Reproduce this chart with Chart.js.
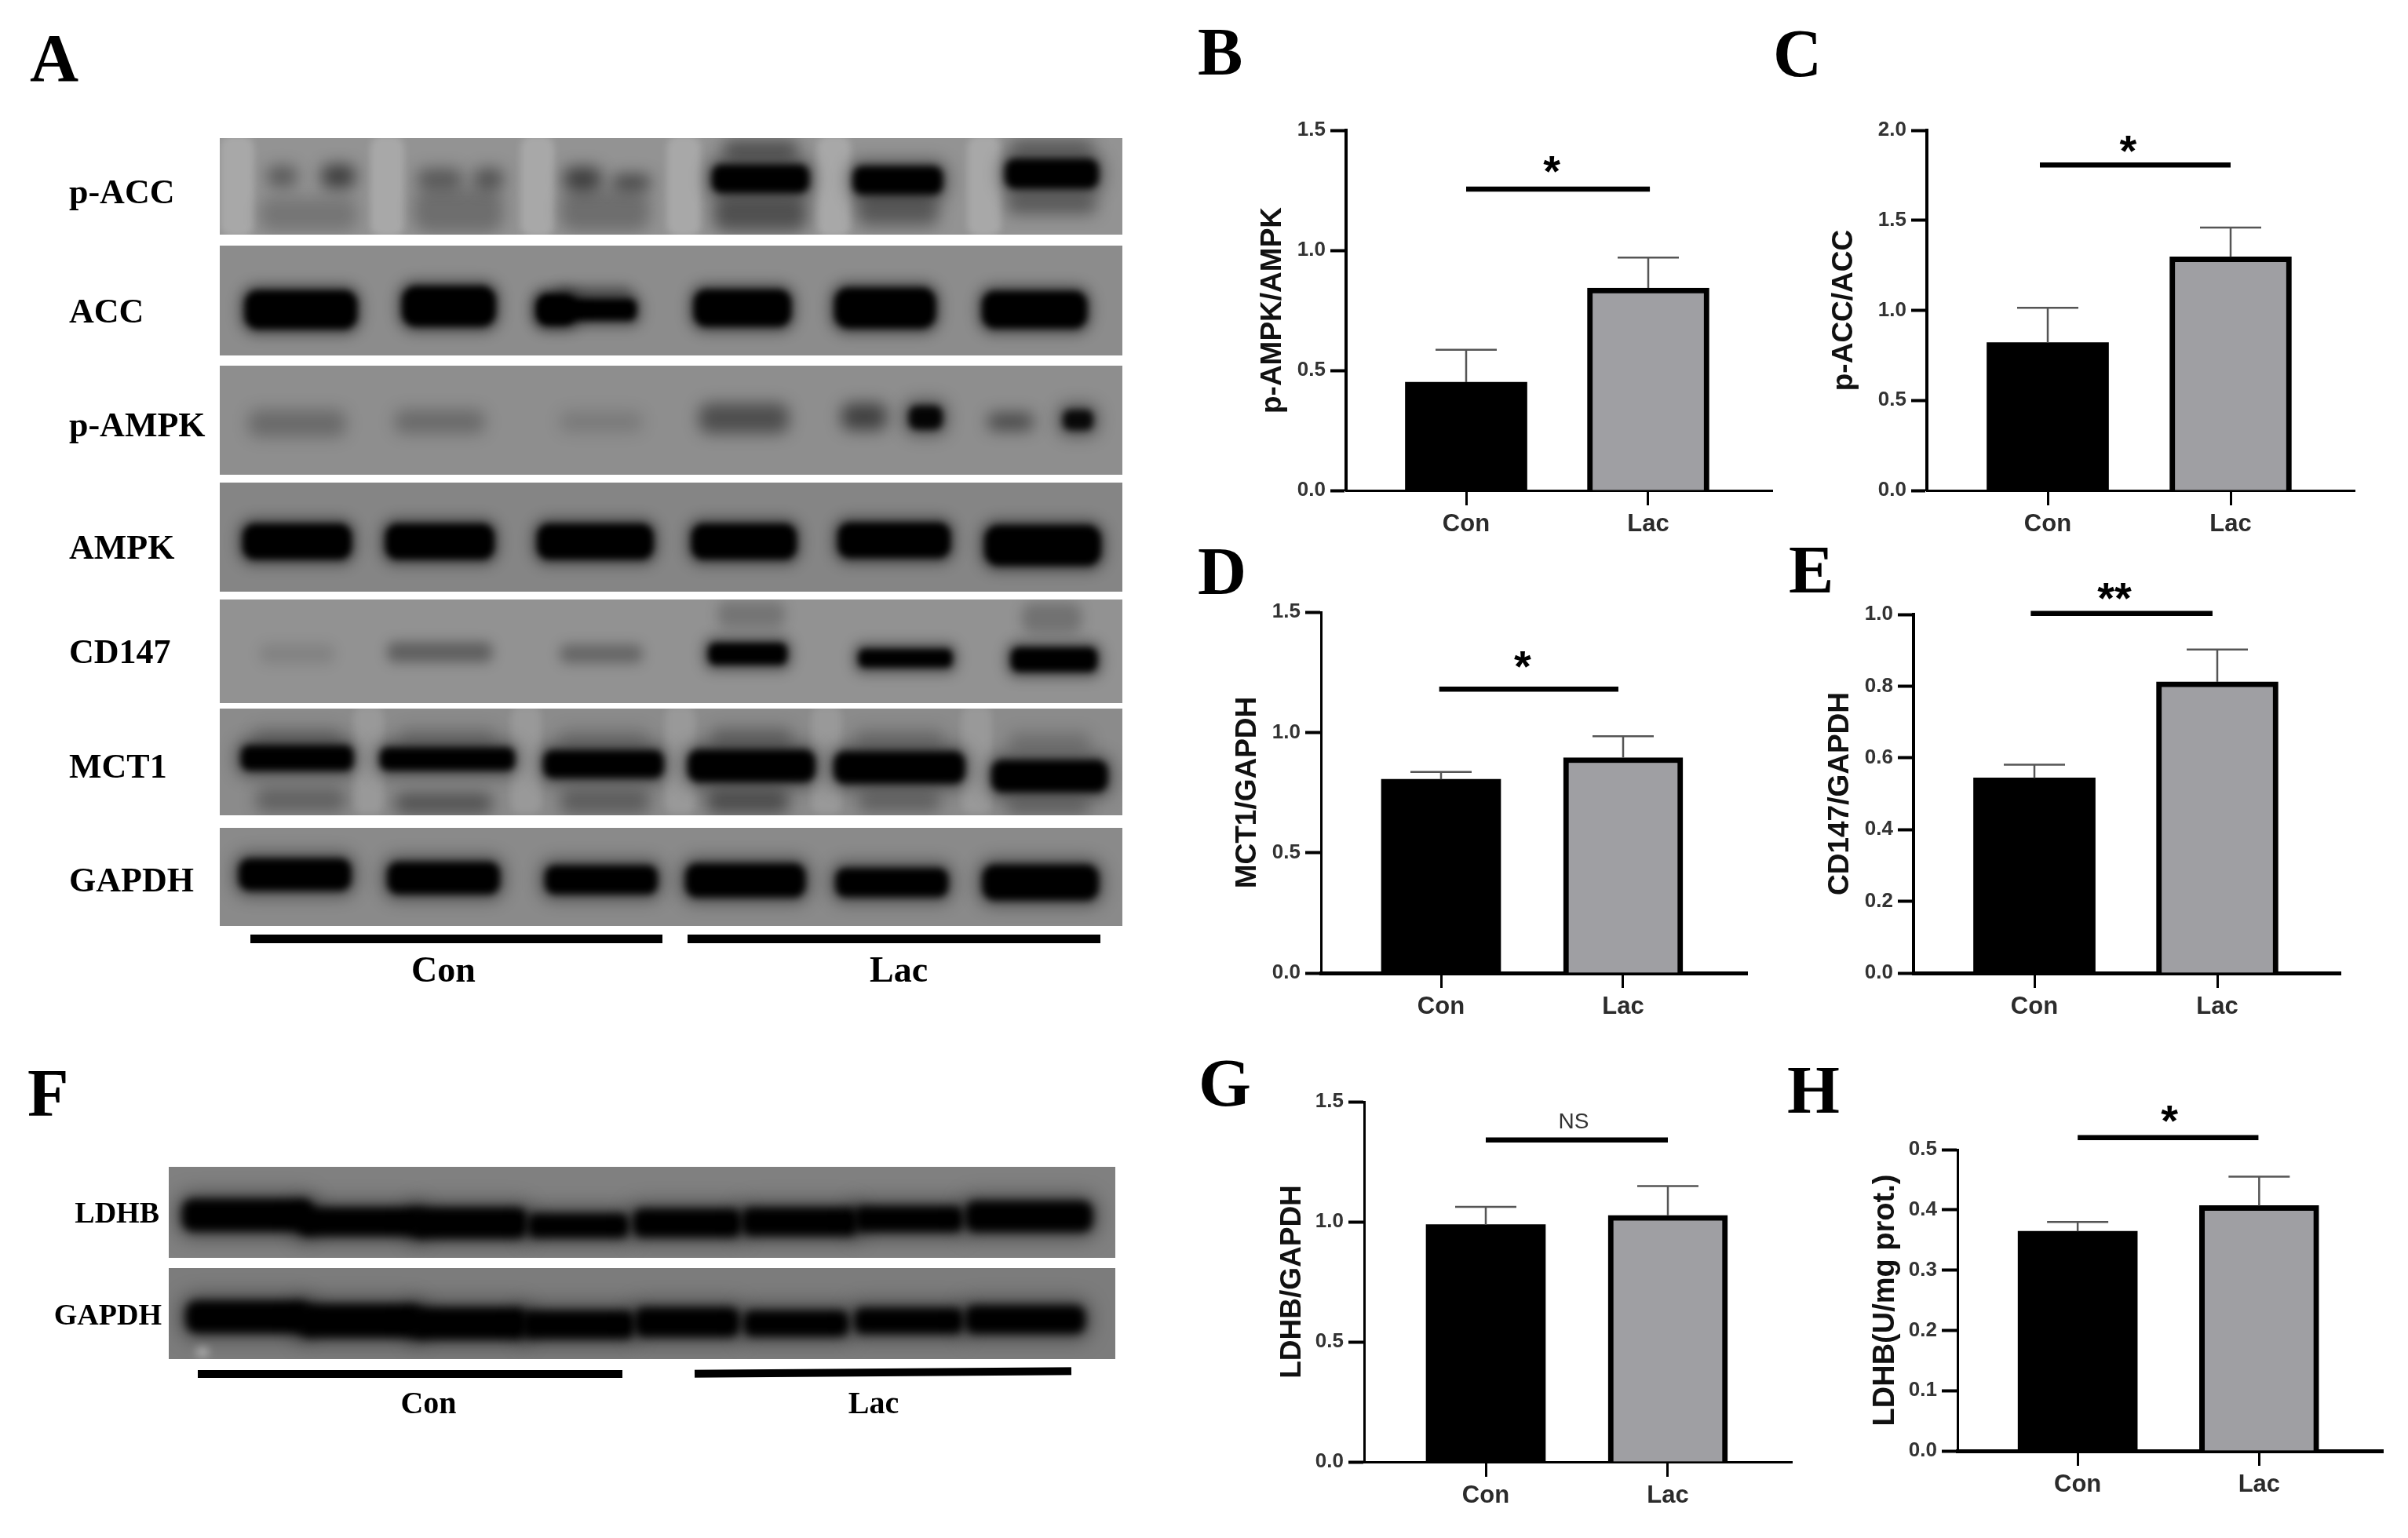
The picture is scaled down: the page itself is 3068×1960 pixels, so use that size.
<!DOCTYPE html>
<html>
<head>
<meta charset="utf-8">
<title>Western blots and densitometry</title>
<script src="https://cdn.jsdelivr.net/npm/chart.js@4/dist/chart.umd.min.js"></script>
<style>
    html, body { margin: 0; padding: 0; background: #fff; }
    body { position: relative; width: 3068px; height: 1960px; overflow: hidden; }
    canvas { position: absolute; }
    .plot { filter: blur(0.7px); }
    .txt { position: absolute; font-family: "Liberation Serif", serif; font-weight: bold; color: #000; line-height: 1; white-space: nowrap; filter: blur(0.6px); }
    .rule { position: absolute; background: #000; filter: blur(0.6px); }
</style>
</head>
<body>
<script>
// bar values
const groupLabels = ['Con', 'Lac'];

const bMeans = [0.451, 0.843];
const bTops = [0.586, 0.970];
const cMeans = [0.821, 1.297];
const cTops = [1.014, 1.460];
const dMeans = [0.805, 0.895];
const dTops = [0.836, 0.984];
const eMeans = [0.544, 0.812];
const eTops = [0.581, 0.902];
const gMeans = [0.988, 1.027];
const gTops = [1.062, 1.149];
const hMeans = [0.3644, 0.407];
const hTops = [0.380, 0.455];

const bTicks = [0, 0.5, 1.0, 1.5];
const cTicks = [0, 0.5, 1.0, 1.5, 2.0];
const dTicks = [0, 0.5, 1.0, 1.5];
const eTicks = [0, 0.2, 0.4, 0.6, 0.8, 1.0];
const gTicks = [0, 0.5, 1.0, 1.5];
const hTicks = [0, 0.1, 0.2, 0.3, 0.4, 0.5];

// blot bands: [lane x, y, width, height, ink], negative ink is a lighter streak
const pAccBands = [
    [23, 142, 45, 300, -0.2], [223, 142, 45, 300, -0.2], [423, 142, 45, 300, -0.2],
    [618, 142, 45, 300, -0.2], [818, 142, 45, 300, -0.2], [1018, 142, 45, 300, -0.2],
    [118, 225, 130, 100, 0.2], [318, 215, 120, 130, 0.25], [513, 215, 120, 120, 0.25],
    [720, 225, 125, 100, 0.45], [903, 215, 110, 90, 0.38], [1108, 195, 120, 60, 0.38],
    [720, 35, 100, 60, 0.45], [1108, 25, 110, 40, 0.4],
    [83, 113, 40, 60, 0.4], [158, 113, 45, 70, 0.58],
    [293, 120, 60, 60, 0.4], [358, 120, 40, 60, 0.45],
    [483, 120, 50, 70, 0.58], [548, 130, 50, 45, 0.55],
    [720, 120, 130, 85, 1], [903, 125, 120, 85, 1], [1108, 105, 125, 90, 1]
];
const accBands = [
    [108, 188, 150, 115, 1], [305, 178, 125, 120, 1],
    [490, 188, 130, 65, 1], [448, 188, 50, 90, 1], [498, 138, 100, 40, 0.3],
    [696, 183, 130, 110, 1], [886, 183, 135, 120, 1], [1085, 188, 140, 110, 1]
];
const pAmpkBands = [
    [103, 170, 130, 80, 0.25], [293, 165, 120, 70, 0.25], [508, 165, 110, 60, 0.14],
    [698, 155, 120, 90, 0.45], [858, 150, 60, 80, 0.55], [940, 153, 45, 70, 0.95],
    [1053, 165, 60, 50, 0.5], [1143, 160, 40, 60, 0.9]
];
const ampkBands = [
    [103, 174, 145, 105, 1], [293, 174, 145, 105, 1], [500, 174, 155, 105, 1],
    [698, 174, 140, 105, 1], [898, 170, 150, 105, 1], [1096, 185, 155, 120, 1]
];
const cd147Bands = [
    [708, 45, 90, 80, 0.2], [1108, 55, 80, 90, 0.22],
    [103, 160, 100, 60, 0.1], [293, 155, 140, 60, 0.35], [508, 160, 110, 55, 0.3],
    [703, 160, 105, 65, 1], [913, 173, 125, 55, 1], [1111, 177, 115, 72, 1]
];
const mct1Bands = [
    [198, 150, 40, 320, -0.12], [408, 150, 40, 320, -0.12], [613, 150, 40, 320, -0.12],
    [808, 150, 40, 320, -0.12], [1008, 150, 40, 320, -0.12],
    [103, 85, 120, 60, 0.2], [303, 85, 130, 60, 0.18], [511, 90, 120, 60, 0.18],
    [708, 85, 110, 60, 0.28], [905, 90, 120, 60, 0.2], [1105, 100, 110, 60, 0.2],
    [108, 268, 120, 70, 0.3], [298, 278, 130, 60, 0.42], [513, 273, 120, 70, 0.34],
    [703, 273, 110, 70, 0.45], [905, 273, 110, 60, 0.3], [1103, 288, 110, 40, 0.34],
    [103, 145, 150, 75, 1], [303, 148, 180, 68, 1], [511, 163, 160, 82, 1],
    [708, 168, 170, 95, 1], [905, 173, 175, 95, 1], [1105, 198, 155, 95, 1]
];
const gapdhBands = [
    [100, 137, 150, 95, 1], [298, 147, 150, 95, 1], [508, 152, 150, 85, 1],
    [700, 154, 160, 100, 1], [895, 160, 150, 85, 1], [1093, 160, 155, 105, 1]
];
const ldhbBands = [
    [105, 185, 175, 125, 1], [255, 210, 165, 110, 1], [400, 215, 155, 120, 1], [545, 225, 135, 95, 1],
    [690, 215, 145, 110, 1], [840, 210, 155, 110, 1], [985, 200, 145, 100, 1], [1145, 190, 170, 120, 1]
];
const gapdh2Bands = [
    [105, 188, 165, 125, 1], [255, 203, 165, 130, 1], [400, 213, 155, 125, 1], [545, 218, 150, 110, 1],
    [690, 208, 140, 115, 1], [835, 213, 140, 100, 1], [985, 203, 145, 100, 1], [1140, 198, 160, 110, 1],
    [45, 323, 15, 30, -0.5]
];

// where things sit on the page
const panelBoxes = {
    B: { left: 1715, right: 2258, top: 166, bottom: 624.4, conX: 1868, lacX: 2100, titleX: 1619, barW: 155, yw: 4, xw: 3 },
    C: { left: 2455, right: 3000, top: 166, bottom: 624.4, conX: 2609, lacX: 2842, titleX: 2347, barW: 155, yw: 4, xw: 3 },
    D: { left: 1683, right: 2226, top: 780.4, bottom: 1239.6, conX: 1836, lacX: 2068, titleX: 1587, barW: 152, yw: 3, xw: 5 },
    E: { left: 2438, right: 2982, top: 782.9, bottom: 1239.6, conX: 2592, lacX: 2825, titleX: 2342, barW: 155, yw: 4, xw: 5 },
    G: { left: 1738, right: 2283, top: 1403.7, bottom: 1862.7, conX: 1893, lacX: 2125, titleX: 1644, barW: 152, yw: 3, xw: 3 },
    H: { left: 2494, right: 3035.5, top: 1465.3, bottom: 1848.9, conX: 2647, lacX: 2878, titleX: 2399, barW: 152, yw: 3, xw: 5 }
};

function addText(text, x, y, size, align) {
    let d = document.createElement('div');
    d.className = 'txt';
    d.textContent = text;
    d.style.fontSize = size + 'px';
    d.style.top = (y - size / 2) + 'px';
    if (align === 'center') {
        d.style.left = x + 'px';
        d.style.transform = 'translateX(-50%)';
    } else if (align === 'right') {
        d.style.right = (3068 - x) + 'px';
    } else {
        d.style.left = x + 'px';
    }
    document.body.appendChild(d);
}

function addLetter(text, x, baseline) {
    let d = document.createElement('div');
    d.className = 'txt';
    d.textContent = text;
    d.style.fontSize = '86px';
    d.style.left = x + 'px';
    d.style.top = (baseline - 0.8375 * 86) + 'px';
    document.body.appendChild(d);
}

function addRule(x1, x2, y, h, angle) {
    let d = document.createElement('div');
    d.className = 'rule';
    d.style.left = x1 + 'px';
    d.style.top = y + 'px';
    d.style.width = (x2 - x1) + 'px';
    d.style.height = h + 'px';
    if (angle) d.style.transform = 'rotate(' + angle + 'deg)';
    document.body.appendChild(d);
}

// one gel strip: grey ground with soft bands placed through the chart scales
const bandPlugin = {
    id: 'bands',
    beforeDatasetsDraw(chart) {
        const ctx = chart.ctx;
        const area = chart.chartArea;
        const xs = chart.scales.x;
        const ys = chart.scales.y;
        const soft = chart.data.datasets[0].soft;
        ctx.save();
        ctx.beginPath();
        ctx.rect(area.left, area.top, area.right - area.left, area.bottom - area.top);
        ctx.clip();
        ctx.fillStyle = chart.data.datasets[0].ground;
        ctx.fillRect(area.left, area.top, area.right - area.left, area.bottom - area.top);
        const blob = function (px, py, w, h, colour, blur) {
            ctx.filter = 'blur(' + blur + 'px)';
            ctx.fillStyle = colour;
            ctx.beginPath();
            ctx.roundRect(px - w / 2, py - h / 2, w, h, Math.min(w, h) * 0.35);
            ctx.fill();
        };
        chart.data.datasets[0].data.forEach(function (b) {
            const px = xs.getPixelForValue(b.x);
            const py = ys.getPixelForValue(b.y);
            const w = Math.abs(xs.getPixelForValue(b.x + b.w / 2) - px) * 2;
            const h = Math.abs(ys.getPixelForValue(b.y + b.h / 2) - py) * 2;
            if (b.ink >= 0.9) {
                // dark halo round a saturated band
                blob(px, py, w + 14, h + 16, 'rgba(0,0,0,0.4)', soft * 2);
            }
            const colour = b.ink > 0 ? 'rgba(0,0,0,' + b.ink + ')' : 'rgba(255,255,255,' + (-b.ink) + ')';
            blob(px, py, w, h, colour, b.ink > 0 && b.ink < 0.6 ? soft * 2 : soft);
        });
        ctx.restore();
    }
};

function drawStrip(bands, left, top, right, bottom, xMax, yMax, ground, soft) {
    let canvas = document.createElement('canvas');
    canvas.width = Math.round(right - left);
    canvas.height = Math.round(bottom - top);
    canvas.style.left = left + 'px';
    canvas.style.top = top + 'px';
    document.body.appendChild(canvas);
    new Chart(canvas, {
        type: 'scatter',
        data: {
            datasets: [{
                data: bands.map(function (b) { return { x: b[0], y: b[1], w: b[2], h: b[3], ink: b[4] }; }),
                pointRadius: 0,
                ground: ground,
                soft: soft
            }]
        },
        plugins: [bandPlugin],
        options: {
            responsive: false,
            animation: false,
            devicePixelRatio: 1,
            layout: { padding: 0 },
            plugins: { legend: { display: false }, tooltip: { enabled: false } },
            scales: {
                x: { type: 'linear', display: false, min: 0, max: xMax },
                y: { type: 'linear', display: false, min: 0, max: yMax, reverse: true }
            }
        }
    });
}

function drawPanel(box, means, tops, yTicks, title, titleSize, sigText, sigLevel, sigSpan, sigAt, sigLift) {
    const topRoom = 70;
    const bottomRoom = 74;
    const axisRoom = Math.round(box.left - (box.titleX - titleSize * 0.5));
    const spacing = box.lacX - box.conX;
    let canvas = document.createElement('canvas');
    canvas.className = 'plot';
    canvas.width = Math.ceil(box.right - box.left + axisRoom + 8);
    canvas.height = Math.ceil(box.bottom - box.top + topRoom + bottomRoom);
    canvas.style.left = (box.left - axisRoom) + 'px';
    canvas.style.top = (box.top - topRoom) + 'px';
    document.body.appendChild(canvas);

    const marks = {
        id: 'marks',
        afterDatasetsDraw(chart) {
            const ctx = chart.ctx;
            const xs = chart.scales.x;
            const ys = chart.scales.y;
            ctx.save();
            // error bars, upper side only
            ctx.strokeStyle = '#555';
            ctx.lineWidth = 2.5;
            means.forEach(function (m, i) {
                const px = xs.getPixelForValue(i);
                const yTop = ys.getPixelForValue(tops[i]);
                ctx.beginPath();
                ctx.moveTo(px, ys.getPixelForValue(m));
                ctx.lineTo(px, yTop);
                ctx.moveTo(px - 39, yTop);
                ctx.lineTo(px + 39, yTop);
                ctx.stroke();
            });
            // significance bar and its label
            const sy = ys.getPixelForValue(sigLevel);
            ctx.strokeStyle = '#000';
            ctx.lineWidth = 6.5;
            ctx.beginPath();
            ctx.moveTo(xs.getPixelForValue(sigSpan[0]), sy);
            ctx.lineTo(xs.getPixelForValue(sigSpan[1]), sy);
            ctx.stroke();
            ctx.textAlign = 'center';
            ctx.textBaseline = 'alphabetic';
            if (sigText === 'NS') {
                ctx.fillStyle = '#333';
                ctx.font = '28px "Liberation Sans"';
                ctx.fillText(sigText, xs.getPixelForValue(sigAt), sy - sigLift + 10);
            } else {
                ctx.fillStyle = '#000';
                ctx.font = 'bold 56px "Liberation Sans"';
                ctx.fillText(sigText, xs.getPixelForValue(sigAt), sy - sigLift + 56 * 0.46);
            }
            ctx.restore();
        }
    };

    new Chart(canvas, {
        type: 'bar',
        data: {
            datasets: [{
                data: means.map(function (m, i) { return { x: i, y: m }; }),
                backgroundColor: ['#000000', '#9f9fa3'],
                borderColor: '#000000',
                borderWidth: [0, 7],
                borderSkipped: 'bottom',
                barThickness: box.barW
            }]
        },
        plugins: [marks],
        options: {
            responsive: false,
            animation: false,
            devicePixelRatio: 1,
            layout: { padding: { top: topRoom, right: 8, left: 0, bottom: 0 } },
            plugins: { legend: { display: false }, tooltip: { enabled: false } },
            scales: {
                x: {
                    type: 'linear',
                    offset: false,
                    min: (box.left - box.conX) / spacing,
                    max: (box.right - box.conX) / spacing,
                    afterBuildTicks: function (scale) {
                        scale.ticks = groupLabels.map(function (g, i) { return { value: i }; });
                    },
                    afterFit: function (scale) {
                        scale.height = bottomRoom;
                        scale.paddingLeft = 0;
                        scale.paddingRight = 0;
                    },
                    border: { color: '#000', width: box.xw },
                    grid: { offset: false, drawOnChartArea: false, tickLength: 19, tickWidth: 3, tickColor: '#000' },
                    ticks: {
                        autoSkip: false,
                        maxRotation: 0,
                        padding: 6,
                        color: '#2b2b2b',
                        font: { family: 'Liberation Sans', weight: 'bold', size: 31 },
                        callback: function (v) { return groupLabels[v]; }
                    }
                },
                y: {
                    type: 'linear',
                    min: yTicks[0],
                    max: yTicks[yTicks.length - 1],
                    afterBuildTicks: function (scale) {
                        scale.ticks = yTicks.map(function (v) { return { value: v }; });
                    },
                    afterFit: function (scale) {
                        scale.width = axisRoom;
                        scale.paddingTop = 0;
                        scale.paddingBottom = 0;
                    },
                    border: { color: '#000', width: box.yw },
                    grid: { drawOnChartArea: false, tickLength: 20, tickWidth: 4, tickColor: '#000' },
                    title: {
                        display: true,
                        text: title,
                        color: '#111',
                        padding: 0,
                        font: { family: 'Liberation Sans', weight: 'bold', size: titleSize, lineHeight: 1.2 }
                    },
                    ticks: {
                        padding: 6,
                        color: '#333',
                        font: { family: 'Liberation Sans', weight: 'bold', size: 26 },
                        callback: function (v) { return v.toFixed(1); }
                    }
                }
            }
        }
    });
}

// panel A strips
drawStrip(pAccBands, 280, 176, 1430, 299, 1202, 285, '#939393', 5);
drawStrip(accBands, 280, 313, 1430, 453, 1202, 322, '#8c8c8c', 4);
drawStrip(pAmpkBands, 280, 466, 1430, 605, 1202, 321, '#8e8e8e', 5);
drawStrip(ampkBands, 280, 615, 1430, 754, 1202, 321, '#858585', 4);
drawStrip(cd147Bands, 280, 764, 1430, 896, 1202, 305, '#929292', 4);
drawStrip(mct1Bands, 280, 903, 1430, 1039, 1202, 313, '#8b8b8b', 5);
drawStrip(gapdhBands, 280, 1055, 1430, 1180, 1202, 287, '#8a8a8a', 5);

// panel F strips
drawStrip(ldhbBands, 215, 1487, 1421, 1603, 1260, 348, '#808080', 6);
drawStrip(gapdh2Bands, 215, 1616, 1421, 1732, 1260, 350, '#7c7c7c', 6);

addText('p-ACC', 88, 245, 44);
addText('ACC', 88, 397, 44);
addText('p-AMPK', 88, 542, 44);
addText('AMPK', 88, 698, 44);
addText('CD147', 88, 831, 44);
addText('MCT1', 88, 977, 44);
addText('GAPDH', 88, 1122, 44);
addRule(319, 844, 1191, 11);
addRule(876, 1402, 1191, 11);
addText('Con', 565, 1236, 46, 'center');
addText('Lac', 1145, 1236, 46, 'center');

addText('LDHB', 203, 1545, 38, 'right');
addText('GAPDH', 206, 1675, 38, 'right');
addRule(252, 793, 1746, 10);
addRule(885, 1365, 1744, 10, -0.4);
addText('Con', 546, 1788, 40, 'center');
addText('Lac', 1113, 1788, 40, 'center');

addLetter('A', 38, 103);
addLetter('B', 1526, 95);
addLetter('C', 2259, 97);
addLetter('D', 1526, 757);
addLetter('E', 2279, 755);
addLetter('F', 35, 1422);
addLetter('G', 1527, 1409);
addLetter('H', 2277, 1418);

drawPanel(panelBoxes.B, bMeans, bTops, bTicks, 'p-AMPK/AMPK', 37, '*', 1.255, [0, 1.009], 0.47, 29.5);
drawPanel(panelBoxes.C, cMeans, cTops, cTicks, 'p-ACC/ACC', 37, '*', 1.807, [-0.043, 1], 0.44, 25);
drawPanel(panelBoxes.D, dMeans, dTops, dTicks, 'MCT1/GAPDH', 37, '*', 1.18, [-0.01, 0.974], 0.448, 35.5);
drawPanel(panelBoxes.E, eMeans, eTops, eTicks, 'CD147/GAPDH', 37, '**', 1.003, [-0.02, 0.974], 0.438, 26.6);
drawPanel(panelBoxes.G, gMeans, gTops, gTicks, 'LDHB/GAPDH', 37, 'NS', 1.341, [0, 1], 0.483, 25);
drawPanel(panelBoxes.H, hMeans, hTops, hTicks, 'LDHB(U/mg prot.)', 38, '*', 0.52, [0, 0.996], 0.506, 28);
</script>
</body>
</html>
